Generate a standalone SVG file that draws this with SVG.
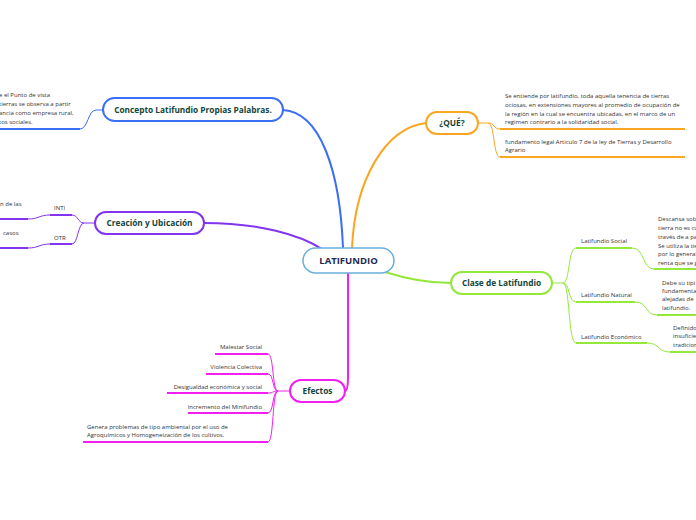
<svg xmlns="http://www.w3.org/2000/svg" width="696" height="520" viewBox="0 0 696 520">
<style>
.node{fill:#fff;stroke-width:2}
.lbl{font-family:"Open Sans","Noto Sans",sans-serif;font-weight:bold;font-size:8.3px;fill:#12463a;text-anchor:middle}
.txt{font-family:"Open Sans","Noto Sans",sans-serif;font-size:6px;fill:#333}
.main{fill:none;stroke-width:2;stroke-linecap:round}
.sub{fill:none;stroke-width:1}
.ul{fill:none;stroke-width:2}
.blue{stroke:#3a6ff5}.purple{stroke:#8234f0}.orange{stroke:#f9a623}.green{stroke:#93e83a}.mag{stroke:#f21ff0}
</style>
<rect width="696" height="520" fill="#fff"/>
<g id="connectors">
<path class="main blue" d="M283,110 C320,112 340,170 343,248"/>
<path class="main orange" d="M426,123 C385,128 355,180 352,248"/>
<path class="main purple" d="M204,223 C260,223 300,235 322,249"/>
<path class="main green" d="M385,272 C410,280 430,283 451,283"/>
<path class="main mag" d="M348,273 L348,376 C348,386 347,391 345,391"/>
<!-- concepto -->
<path class="sub blue" d="M103,110 L96,110 C88,110 88,129 80,129"/>
<path class="ul blue" d="M0,129 L80,129"/>
<!-- creacion -->
<path class="sub purple" d="M95,223 L84,223 C78,223 78,215 72,215"/>
<path class="sub purple" d="M84,223 C78,223 78,244 72,244"/>
<path class="ul purple" d="M50,215 L72,215"/>
<path class="ul purple" d="M50,244 L72,244"/>
<path class="sub purple" d="M50,215 C39,215 39,219 28,219"/>
<path class="sub purple" d="M50,244 C39,244 39,248 28,248"/>
<path class="ul purple" d="M0,219 L28,219"/>
<path class="ul purple" d="M0,248 L28,248"/>
<!-- que -->
<path class="sub orange" d="M478,123 L488,123 C495,123 493,129 500,129"/>
<path class="sub orange" d="M488,123 C495,123 493,157 500,157"/>
<path class="ul orange" d="M500,129 L685,129"/>
<path class="ul orange" d="M500,157 L685,157"/>
<!-- clase -->
<path class="sub green" d="M552,283 L563,283 C570,283 568,248 576,248"/>
<path class="sub green" d="M563,283 C570,283 568,302 576,302"/>
<path class="sub green" d="M563,283 C570,283 568,343 576,343"/>
<path class="ul green" d="M576,248 L632,248"/>
<path class="ul green" d="M576,302 L635,302"/>
<path class="ul green" d="M576,343 L647,343"/>
<path class="sub green" d="M632,248 C645,248 642,269 654,269"/>
<path class="sub green" d="M635,302 C648,302 645,315 657,315"/>
<path class="sub green" d="M647,343 C660,343 657,352 670,352"/>
<path class="ul green" d="M654,269 L696,269"/>
<path class="ul green" d="M657,315 L696,315"/>
<path class="ul green" d="M670,352 L696,352"/>
<!-- efectos -->
<path class="sub mag" d="M290,391 L278,391 C272,391 274,354 268,354"/>
<path class="sub mag" d="M278,391 C272,391 274,374 268,374"/>
<path class="sub mag" d="M278,391 C272,391 274,393 268,393"/>
<path class="sub mag" d="M278,391 C272,391 274,413 268,413"/>
<path class="sub mag" d="M278,391 C272,391 274,442 268,442"/>
<path class="ul mag" d="M215,354 L268,354"/>
<path class="ul mag" d="M206,374 L268,374"/>
<path class="ul mag" d="M167,393 L268,393"/>
<path class="ul mag" d="M188,413 L268,413"/>
<path class="ul mag" d="M83,442 L268,442"/>
</g>
<g id="latifundio">
<rect x="303" y="248" width="91" height="25" rx="12.5" fill="#fff" stroke="#6aaedc" stroke-width="1.5"/>
<text x="348.5" y="264" class="lbl" style="font-size:9.5px;fill:#1b2a4e">LATIFUNDIO</text>
</g>
<g id="concepto">
<rect class="node blue" x="103" y="98" width="180" height="23" rx="11.5"/>
<text x="193" y="113" class="lbl">Concepto Latifundio Propias Palabras.</text>
</g>
<g id="concepto-texto">
<text class="txt" x="-1" y="97">e el Punto de vista</text>
<text class="txt" x="-1" y="106">tierras se observa a partir</text>
<text class="txt" x="-1" y="115">ancia como empresa rural,</text>
<text class="txt" x="-1" y="124">tos sociales.</text>
</g>
<g id="creacion">
<rect class="node purple" x="95" y="212" width="109" height="22" rx="11"/>
<text x="149.5" y="226" class="lbl">Creación y Ubicación</text>
</g>
<g id="inti">
<text class="txt" x="54" y="210">INTI</text>
<text class="txt" x="0" y="206">n de las</text>
</g>
<g id="otr">
<text class="txt" x="54" y="240">OTR</text>
<text class="txt" x="3" y="235">casos</text>
</g>
<g id="que">
<rect class="node orange" x="426" y="112" width="52" height="22" rx="11"/>
<text x="452" y="126" class="lbl">¿QUÉ?</text>
</g>
<g id="que-def">
<text class="txt" x="505" y="98">Se entiende por latifundio, toda  aquella tenencia de tierras</text>
<text class="txt" x="505" y="107">ociosas, en extensiones mayores al promedio de ocupación de</text>
<text class="txt" x="505" y="115.5">la región en la cual se encuentra ubicadas, en el marco de un</text>
<text class="txt" x="505" y="124">regimen contrario a la solidaridad social.</text>
</g>
<g id="que-legal">
<text class="txt" x="505" y="144">fundamento legal Articulo 7 de  la ley  de Tierras y Desarrollo</text>
<text class="txt" x="505" y="152">Agrario</text>
</g>
<g id="clase">
<rect class="node green" x="451" y="272" width="101" height="22" rx="11"/>
<text x="501.5" y="286" class="lbl">Clase de Latifundio</text>
</g>
<g id="social">
<text class="txt" x="581" y="243">Latifundio Social</text>
<text class="txt" x="658" y="221">Descansa sob</text>
<text class="txt" x="658" y="230">tierra no es cu</text>
<text class="txt" x="658" y="239">través de a pa</text>
<text class="txt" x="658" y="248">Se utiliza la tie</text>
<text class="txt" x="658" y="256">por lo general</text>
<text class="txt" x="658" y="265">renta que se g</text>
</g>
<g id="natural">
<text class="txt" x="581" y="297">Latifundio Natural</text>
<text class="txt" x="662" y="285">Debe  su tipi</text>
<text class="txt" x="662" y="293">fundamenta</text>
<text class="txt" x="662" y="301">alejadas de</text>
<text class="txt" x="662" y="310">latifundio.</text>
</g>
<g id="economico">
<text class="txt" x="581" y="339">Latifundio Económico</text>
<text class="txt" x="673" y="330">Definido</text>
<text class="txt" x="673" y="338">insuficie</text>
<text class="txt" x="673" y="347">tradicion</text>
</g>
<g id="efectos">
<rect class="node mag" x="290" y="380" width="55" height="22" rx="11"/>
<text x="317.5" y="394" class="lbl">Efectos</text>
</g>
<g id="efectos-items">
<text class="txt" x="262" y="349" text-anchor="end">Malestar Social</text>
<text class="txt" x="262" y="369" text-anchor="end">Violencia Colectiva</text>
<text class="txt" x="262" y="389" text-anchor="end">Desigualdad económica  y social</text>
<text class="txt" x="262" y="409" text-anchor="end">Incremento del Minifundio</text>
<text class="txt" x="87" y="429">Genera problemas de tipo ambiental por el uso de</text>
<text class="txt" x="87" y="437">Agroquímicos y Homogeneización de los cultivos.</text>
</g>
</svg>
